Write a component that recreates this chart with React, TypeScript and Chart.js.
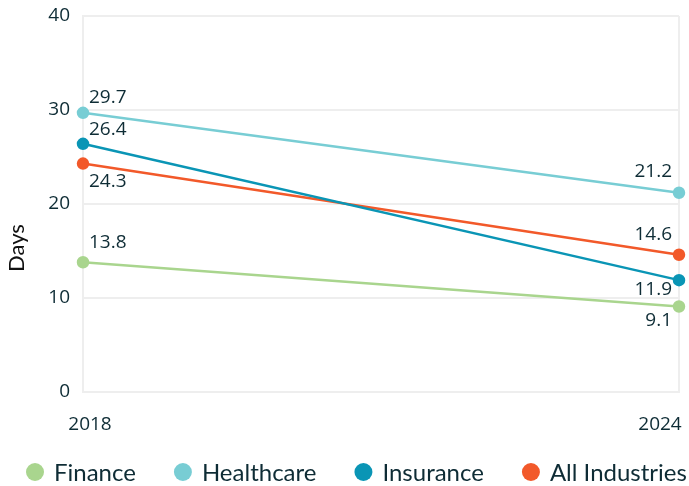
import React, { useEffect, useRef } from "react";
import { Chart, registerables } from "chart.js";

Chart.register(...registerables);

const years = ["2018", "2024"];
const finance = [13.8, 9.1];
const healthcare = [29.7, 21.2];
const insurance = [26.4, 11.9];
const allIndustries = [24.3, 14.6];
const yTicks = [0, 10, 20, 30, 40];
const seriesNames = ["Finance", "Healthcare", "Insurance", "All Industries"];
const yTitle = "Days";

const TEXT = "#0e2c35";
const numFont = "'Open Sans', sans-serif";
const legendFont = "Lato, sans-serif";

// vertical offsets of value labels relative to their points
const labelOffsets = [
  [-20, 14],
  [-15, -21],
  [-14, 9],
  [18, -20],
];

const valueLabels = {
  id: "valueLabels",
  afterDatasetsDraw(chart: any) {
    const ctx = chart.ctx;
    ctx.save();
    ctx.font = "19px " + numFont;
    ctx.fillStyle = TEXT;
    ctx.textBaseline = "middle";
    chart.data.datasets.forEach((ds: any, di: number) => {
      const meta = chart.getDatasetMeta(di);
      meta.data.forEach((pt: any, i: number) => {
        const v = ds.data[i];
        const dy = labelOffsets[di][i];
        if (i === 0) {
          ctx.textAlign = "left";
          ctx.fillText(v.toFixed(1), pt.x + 6, pt.y + dy);
        } else {
          ctx.textAlign = "right";
          ctx.fillText(v.toFixed(1), pt.x - 7, pt.y + dy);
        }
      });
    });
    ctx.restore();
  },
};

const xLabels = {
  id: "xLabels",
  afterDraw(chart: any) {
    const ctx = chart.ctx;
    const xs = chart.scales.x;
    ctx.save();
    ctx.font = "19px " + numFont;
    ctx.fillStyle = TEXT;
    ctx.textBaseline = "middle";
    ctx.textAlign = "center";
    years.forEach((y, i) => {
      const px = xs.getPixelForValue(i);
      const shift = i === 0 ? 7 : -19;
      ctx.fillText(y, px + shift, xs.top + 33);
    });
    // y-axis title, centred on the full canvas height
    ctx.translate(17, chart.height / 2 + 5);
    ctx.rotate(-Math.PI / 2);
    ctx.font = "22px " + legendFont;
    ctx.fillStyle = "#111";
    ctx.fillText(yTitle, 0, 0);
    ctx.restore();
  },
};

const customLegend = {
  id: "customLegend",
  afterDraw(chart: any) {
    const ctx = chart.ctx;
    ctx.save();
    ctx.font = "24px " + legendFont;
    ctx.textBaseline = "middle";
    ctx.textAlign = "left";
    const r = 9;
    const toText = 19;
    const gap = 47;
    const y = 472;
    let x = 26 + r;
    chart.data.datasets.forEach((ds: any) => {
      ctx.fillStyle = ds.borderColor;
      ctx.beginPath();
      ctx.arc(x, y, r, 0, Math.PI * 2);
      ctx.fill();
      ctx.fillStyle = TEXT;
      ctx.fillText(ds.label, x + toText, y + 1);
      x += toText + ctx.measureText(ds.label).width + gap;
    });
    ctx.restore();
  },
};

export default function App() {
  const ref = useRef<HTMLCanvasElement>(null);
  useEffect(() => {
    document.body.style.margin = "0";
    const mk = (label: string, data: number[], color: string) => ({
      label,
      data,
      borderColor: color,
      backgroundColor: color,
      pointBackgroundColor: color,
      pointBorderColor: color,
      borderWidth: 2.5,
      pointRadius: 5,
      pointHoverRadius: 5,
      tension: 0,
      clip: false as any,
    });
    const chart = new Chart(ref.current!, {
      type: "line",
      data: {
        labels: years,
        datasets: [
          mk(seriesNames[0], finance, "#a9d58e"),
          mk(seriesNames[1], healthcare, "#78cdd4"),
          mk(seriesNames[2], insurance, "#0a95b5"),
          mk(seriesNames[3], allIndustries, "#f2592a"),
        ],
      },
      options: {
        animation: false,
        responsive: false,
        layout: { padding: { top: 16, right: 10, left: 0, bottom: 94 } },
        scales: {
          x: {
            offset: false,
            grid: { color: "#eeeeee", lineWidth: 2, drawTicks: false },
            border: { color: "#eeeeee", width: 2 },
            ticks: { display: false },
            afterFit: (s: any) => {
              s.paddingLeft = 0;
              s.paddingRight = 0;
            },
          },
          y: {
            min: 0,
            max: 40,
            afterBuildTicks: (s: any) => {
              s.ticks = yTicks.map((v) => ({ value: v }));
            },
            afterFit: (s: any) => {
              s.width = 83;
              s.paddingTop = 0;
              s.paddingBottom = 0;
            },
            grid: { color: "#eeeeee", lineWidth: 2, drawTicks: false },
            border: { color: "#eeeeee", width: 2 },
            ticks: {
              color: TEXT,
              font: { family: numFont, size: 19 },
              padding: 13,
            },
            title: { display: false },
          },
        },
        plugins: {
          legend: { display: false },
          tooltip: { enabled: false },
        },
      },
      plugins: [valueLabels, xLabels, customLegend],
    });
    return () => chart.destroy();
  }, []);
  return <canvas ref={ref} width={689} height={486} />;
}
